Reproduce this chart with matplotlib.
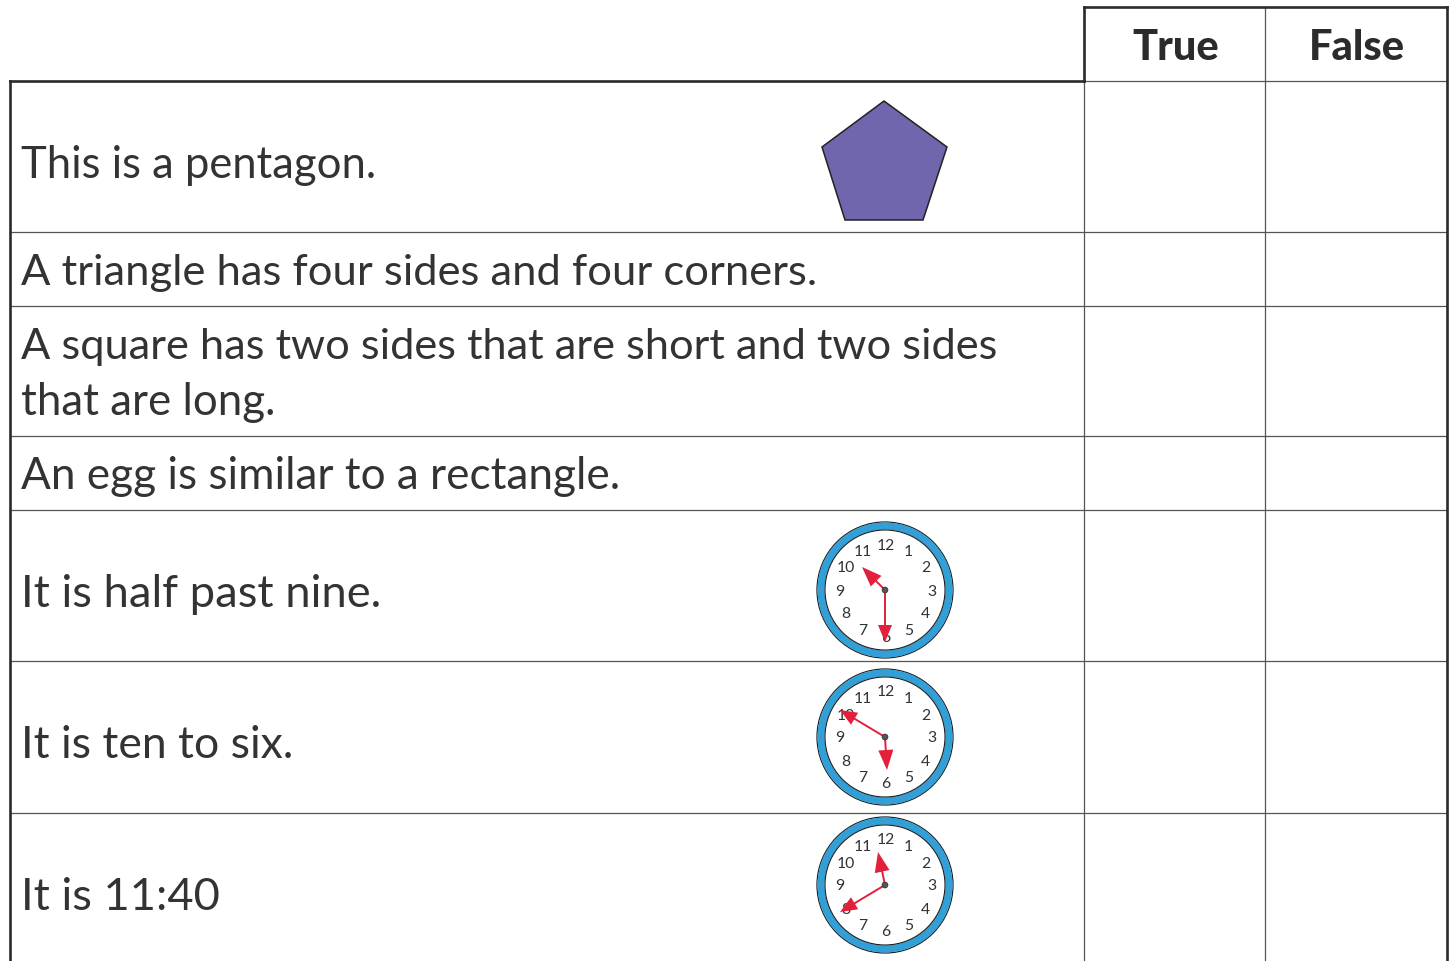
import numpy as np
import matplotlib
matplotlib.use("Agg")
import matplotlib.pyplot as plt
from matplotlib.patches import Circle, Polygon

W, H = 1453, 961
statements = ["This is a pentagon.", "A triangle has four sides and four corners.",
              "A square has two sides that are short and two sides", "that are long.",
              "An egg is similar to a rectangle.", "It is half past nine.",
              "It is ten to six.", "It is 11:40"]
baselines = [178, 285, 359, 415, 489, 607, 758, 910]
statement_sizes = [31.4, 31.3, 31.2, 31.6, 31.8, 32.6, 32.0, 32.6]
headers = ["True", "False"]
header_x = [1175.5, 1357]
row_lines = [232, 306, 436, 510, 661, 813]
col_lines = [1084, 1265, 1447]
left, head_top, head_bottom = 10, 7, 81
pentagon_xy = [(884, 101), (947, 147), (923, 220), (845, 220), (822, 147)]
clock_centres = [(885, 590), (885, 737), (885, 885)]
hour_tips = [(862, 567), (887, 770), (878, 852)]
minute_tips = [(885, 642), (840, 710), (840, 912)]
clock_numbers = [str(i) for i in range(1, 13)]

DARK, THIN, BLUE, RED = "#2b2b2b", "#555555", "#329fd7", "#e2203c"
fig = plt.figure(figsize=(W / 100, H / 100), dpi=100)
ax = fig.add_axes([0, 0, 1, 1])
ax.set_xlim(0, W); ax.set_ylim(H, 0); ax.axis("off")

thin = dict(color=THIN, lw=0.9, solid_capstyle="butt")
thick = dict(color=DARK, lw=1.9, solid_capstyle="projecting")
for y in row_lines:
    ax.plot([left, col_lines[2]], [y, y], **thin)
for x in col_lines[:2]:
    ax.plot([x, x], [head_top, H], **thin)
ax.plot([col_lines[0], col_lines[2]], [head_bottom, head_bottom], **thin)
ax.plot([col_lines[0], col_lines[2]], [head_top, head_top], **thick)
ax.plot([col_lines[0], col_lines[0]], [head_top, head_bottom], **thick)
ax.plot([col_lines[2], col_lines[2]], [head_top, H], **thick)
ax.plot([left, col_lines[0]], [head_bottom, head_bottom], **thick)
ax.plot([left, left], [head_bottom, H], **thick)

for s, y, fs in zip(statements, baselines, statement_sizes):
    ax.text(21, y, s, family="Lato", fontsize=fs, color="#333333", va="baseline", ha="left")
for s, x in zip(headers, header_x):
    ax.text(x, 60, s, family="Lato", fontsize=30, weight="black", color="#2b2b2b", va="baseline", ha="center")

ax.add_patch(Polygon(pentagon_xy, closed=True, fc="#6f66ad", ec="#222222", lw=1.1))

def hand(c, tip, head_len, head_w):
    c, tip = np.array(c, float), np.array(tip, float)
    d = (tip - c) / np.linalg.norm(tip - c)
    n = np.array([-d[1], d[0]])
    base = tip - d * head_len
    ax.plot([c[0], base[0]], [c[1], base[1]], color=RED, lw=1.4, zorder=5)
    ax.add_patch(Polygon([tip, base + n * head_w / 2, base - n * head_w / 2], closed=True, fc=RED, ec="none", zorder=5))

for c, ht, mt in zip(clock_centres, hour_tips, minute_tips):
    ax.add_patch(Circle(c, 68, fc="white", ec="#1d1d1d", lw=0.9, zorder=2))
    ax.add_patch(Circle(c, 64, fc="none", ec=BLUE, lw=5.2, zorder=3))
    ax.add_patch(Circle(c, 60, fc="none", ec="#1d1d1d", lw=0.8, zorder=3))
    for i, s in enumerate(clock_numbers, start=1):
        a = np.deg2rad(i * 30)
        ax.text(c[0] + 0.5 + 46 * np.sin(a), c[1] + 1.5 - 46 * np.cos(a), s, family="Lato", fontsize=11.3,
                color="#333333", ha="center", va="center", zorder=4)
    hand(c, ht, 20, 15)
    hand(c, mt, 17, 14)
    ax.add_patch(Circle(c, 3, fc="#555555", ec="#222222", lw=0.4, zorder=6))

fig.savefig("out.png", dpi=100, facecolor="white")
